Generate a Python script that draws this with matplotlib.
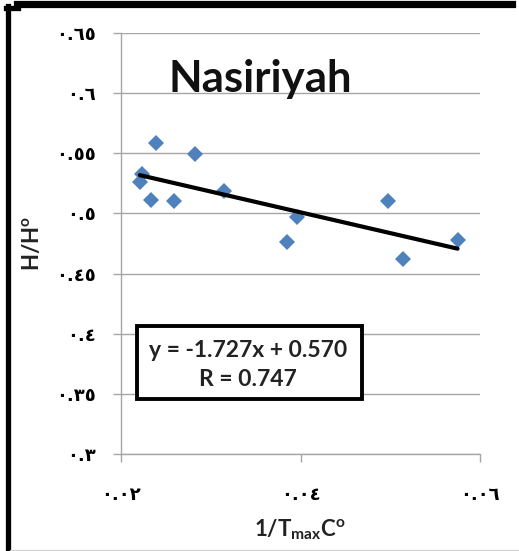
import matplotlib
matplotlib.use("Agg")
import matplotlib.pyplot as plt
from matplotlib.lines import Line2D
from matplotlib.patches import Rectangle
import numpy as np

# Data
x_vals = [0.0239, 0.02825, 0.0223, 0.0221, 0.0233, 0.0259, 0.0315,
          0.0396, 0.0385, 0.0497, 0.0514, 0.0575]
y_vals = [0.5586, 0.5498, 0.5331, 0.5261, 0.5109, 0.5103, 0.5184,
          0.4970, 0.4761, 0.5103, 0.4623, 0.4775]
slope = -1.727
intercept = 0.570
r_value = 0.747
title = "Nasiriyah"
yticks = [0.30, 0.35, 0.40, 0.45, 0.50, 0.55, 0.60, 0.65]
ytick_labels = ["٠.٣", "٠.٣٥", "٠.٤", "٠.٤٥", "٠.٥", "٠.٥٥", "٠.٦", "٠.٦٥"]
xticks = [0.02, 0.04, 0.06]
xtick_labels = ["٠.٠٢", "٠.٠٤", "٠.٠٦"]

W, H = 519, 551
fig = plt.figure(figsize=(W / 100, H / 100), dpi=100)

def fx(px):
    return px / W

def fy(py):
    return 1 - py / H

ax = fig.add_axes([fx(121), fy(454), fx(480) - fx(121), fy(33) - fy(454)])
ax.set_xlim(0.02, 0.06)
ax.set_ylim(0.30, 0.65)

grid_c = "#a6a6a6"
for yv in yticks:
    ax.axhline(yv, color=grid_c, lw=1.0, zorder=0)
for s in ["top", "right"]:
    ax.spines[s].set_visible(False)
for s in ["left", "bottom"]:
    ax.spines[s].set_color(grid_c)
    ax.spines[s].set_linewidth(1.0)

ax.set_yticks(yticks)
ax.set_yticklabels(ytick_labels, fontsize=13, fontweight="bold", family=["DejaVu Sans"])
ax.set_xticks(xticks)
ax.set_xticklabels(xtick_labels, fontsize=13, fontweight="bold", family=["DejaVu Sans"])
ax.tick_params(axis="y", direction="out", length=6, width=1.0, color=grid_c, pad=12)
ax.tick_params(axis="x", direction="out", length=6, width=1.0, color=grid_c, pad=17)

ax.plot(x_vals, y_vals, linestyle="none", marker="D", markersize=8.2,
        color="#4f81bd", markeredgewidth=0, zorder=3)

xmin, xmax = min(x_vals), max(x_vals)
xs = np.array([xmin, xmax])
ax.plot(xs, slope * xs + intercept, color="black", lw=3.0, zorder=4,
        solid_capstyle="round")

ax.text(0.387, 0.860, title, transform=ax.transAxes, ha="center", va="baseline",
        fontsize=31.5, fontweight="bold", family=["Lato", "DejaVu Sans"], color="#111111")

ax.add_patch(Rectangle((0.0446, 0.1306), 0.671 - 0.0446, 0.304 - 0.1306,
                       transform=ax.transAxes, facecolor="white", edgecolor="black",
                       lw=2.8, zorder=5))
ax.text(0.354, 0.247, "y = -1.727x + 0.570", transform=ax.transAxes, ha="center",
        va="center", fontsize=16.5, fontweight="bold", family=["Lato", "DejaVu Sans"],
        color="#222222", zorder=6)
ax.text(0.354, 0.176, "R = 0.747", transform=ax.transAxes, ha="center",
        va="center", fontsize=16.5, fontweight="bold", family=["Lato", "DejaVu Sans"],
        color="#222222", zorder=6)

fig.text(fx(300), fy(530), r"1/T$_{\mathregular{max}}$C$^{\mathregular{o}}$",
         ha="center", va="center", fontsize=16, fontweight="bold",
         family=["Lato", "DejaVu Sans"], color="#222222")
fig.text(fx(32), fy(243), r"H/H$^{\mathregular{o}}$", ha="center", va="center",
         rotation=90, fontsize=16, fontweight="bold",
         family=["Lato", "DejaVu Sans"], color="#222222")

# outer frame pieces
fig.add_artist(Line2D([fx(17), fx(512)], [fy(3.5), fy(3.5)], color="black", lw=5.2,
                      transform=fig.transFigure))
fig.add_artist(Line2D([fx(7.5), fx(7.5)], [fy(6), fy(551)], color="black", lw=3.8,
                      transform=fig.transFigure))
fig.add_artist(Line2D([fx(5.5), fx(18)], [fy(7.5), fy(7.5)], color="black", lw=3.8,
                      transform=fig.transFigure))
fig.add_artist(Line2D([fx(10), fx(519)], [fy(549.5), fy(549.5)], color="#d0d0d0", lw=0.8,
                      transform=fig.transFigure))

fig.savefig("out.png", dpi=100)
